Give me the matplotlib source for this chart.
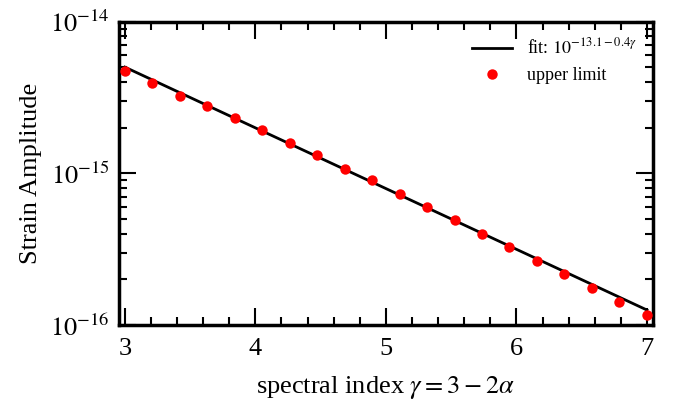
import matplotlib
matplotlib.use("Agg")
import matplotlib.pyplot as plt
import numpy as np
from matplotlib.ticker import MultipleLocator, LogLocator, NullFormatter, FuncFormatter

plt.rcParams['font.family'] = ['Liberation Serif', 'DejaVu Serif']
plt.rcParams['mathtext.fontset'] = 'stix'

# spectral index values (20 evenly spaced points from 3 to 7)
gamma = [3.000, 3.211, 3.421, 3.632, 3.842, 4.053, 4.263, 4.474, 4.684, 4.895,
         5.105, 5.316, 5.526, 5.737, 5.947, 6.158, 6.368, 6.579, 6.789, 7.000]
upper_limit = [4.72e-15, 3.95e-15, 3.25e-15, 2.78e-15, 2.31e-15, 1.93e-15, 1.58e-15,
               1.33e-15, 1.07e-15, 8.99e-16, 7.34e-16, 6.03e-16, 4.92e-16, 3.98e-16,
               3.28e-16, 2.65e-16, 2.17e-16, 1.76e-16, 1.43e-16, 1.16e-16]
fit_a, fit_b = -13.1, -0.4

fig = plt.figure(figsize=(6.8, 4.07), dpi=100)
ax = fig.add_axes([0.175, 0.201, 0.785, 0.746])

g = np.array([3.0, 7.0])
ax.plot(g, 10 ** (fit_a + fit_b * g), color='black', lw=2,
        label=r'fit: $10^{-13.1-0.4\gamma}$')
ax.plot(gamma, upper_limit, 'o', color='red', ms=7.5, mec='none',
        label='upper limit', clip_on=False, zorder=3)

ax.set_yscale('log')
ax.set_xlim(2.955, 7.045)
ax.set_ylim(1e-16, 1e-14)
ax.xaxis.set_major_locator(MultipleLocator(1))
ax.xaxis.set_minor_locator(MultipleLocator(0.2))
ax.yaxis.set_major_locator(LogLocator(base=10, numticks=5))
ax.yaxis.set_minor_locator(LogLocator(base=10, subs=np.arange(2, 10), numticks=20))
ax.yaxis.set_minor_formatter(NullFormatter())
ax.yaxis.set_major_formatter(FuncFormatter(lambda v, p: r'$10^{%d}$' % round(np.log10(v))))

ax.tick_params(which='both', direction='in', top=True, right=True, width=1.5,
               labelsize=19, pad=7)
ax.tick_params(axis='x', which='major', pad=9)
ax.tick_params(which='major', length=12)
ax.tick_params(which='minor', length=6)
for s in ax.spines.values():
    s.set_linewidth(2.5)

ax.set_xlabel(r'spectral index $\gamma = 3 - 2\alpha$', fontsize=19, labelpad=10)
ax.set_ylabel('Strain Amplitude', fontsize=19, labelpad=6)

ax.legend(loc='upper right', frameon=False, fontsize=13, numpoints=1,
          handlelength=2.2, borderaxespad=0.5)

fig.savefig('out.png', dpi=100)
